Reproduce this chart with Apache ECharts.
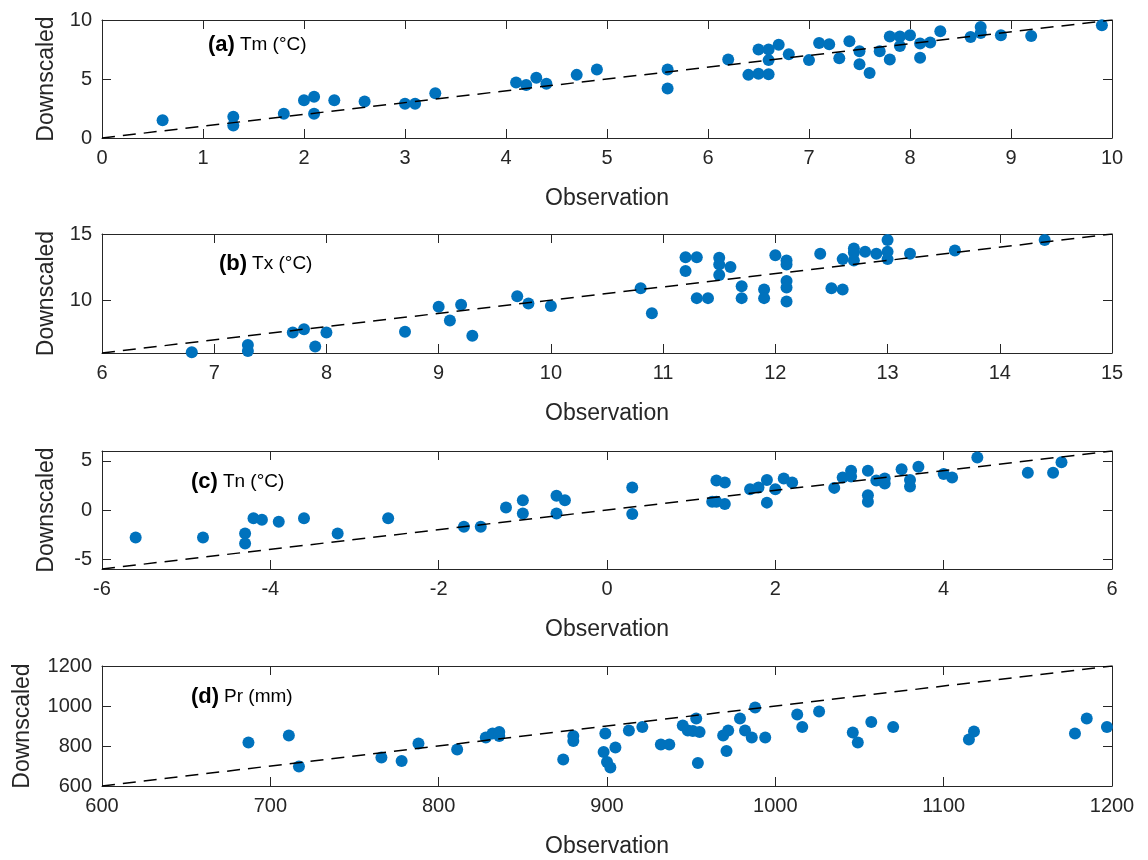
<!DOCTYPE html>
<html lang="en">
<head>
    <meta charset="UTF-8">
    <title>Observation vs Downscaled</title>
    <script src="https://cdn.jsdelivr.net/npm/echarts@6/dist/echarts.min.js"></script>
    <style>
        body { margin: 0; background: #fff; }
    </style>
</head>
<body>
<div id="main" style="width: 1148px;height:860px;"></div>
<script type="text/javascript">
    // (a) Tm
    var tmObs = [0.6,1.3,1.3,1.8,2.0,2.1,2.1,2.3,2.6,3.0,3.1,3.3,4.1,4.2,4.3,4.4,4.7,4.9,5.6,5.6,6.2,6.4,6.5,6.6,6.5,6.6,6.7,6.6,6.8,7.0,7.1,7.2,7.3,7.4,7.5,7.5,7.6,7.7,7.8,7.8,7.9,7.9,8.0,8.1,8.1,8.2,8.3,8.6,8.7,8.7,8.9,9.2,9.9];
    var tmDs  = [1.5,1.8,1.05,2.05,3.2,3.5,2.05,3.2,3.1,2.9,2.9,3.8,4.7,4.5,5.1,4.6,5.35,5.8,5.8,4.2,6.65,5.35,5.45,5.4,7.5,7.5,7.9,6.6,7.1,6.6,8.05,7.95,6.75,8.2,7.35,6.25,5.5,7.35,8.6,6.65,8.6,7.8,8.7,8.0,6.8,8.1,9.05,8.55,9.4,8.9,8.7,8.65,9.55];
    // (b) Tx
    var txObs = [6.8,7.3,7.3,7.7,7.8,7.9,8.0,8.7,9.0,9.1,9.2,9.3,9.7,9.8,10.0,10.8,10.9,11.2,11.2,11.3,11.3,11.4,11.5,11.5,11.5,11.6,11.7,11.7,11.9,11.9,12.0,12.1,12.1,12.1,12.1,12.1,12.4,12.5,12.6,12.6,12.7,12.7,12.7,12.8,12.9,13.0,13.0,13.0,13.2,13.6,14.4];
    var txDs  = [6.05,6.6,6.15,7.55,7.8,6.5,7.55,7.6,9.5,8.45,9.65,7.3,10.3,9.75,9.55,10.9,9.0,13.25,12.2,13.25,10.15,10.15,13.2,12.7,11.9,12.5,11.05,10.15,10.8,10.15,13.4,13.0,12.7,11.45,10.95,9.9,13.5,10.9,10.8,13.1,13.9,13.6,13.0,13.65,13.5,14.55,13.65,13.1,13.5,13.75,14.55];
    // (c) Tn
    var tnObs = [-5.6,-4.8,-4.3,-4.3,-4.2,-4.1,-3.9,-3.6,-3.2,-2.6,-1.7,-1.5,-1.2,-1.0,-1.0,-0.6,-0.6,-0.5,0.3,0.3,1.25,1.3,1.3,1.4,1.4,1.7,1.8,1.9,1.9,2.0,2.1,2.2,2.7,2.8,2.9,2.9,3.1,3.1,3.1,3.2,3.3,3.3,3.5,3.6,3.6,3.7,4.0,4.1,4.4,5.0,5.3,5.4];
    var tnDs  = [-2.8,-2.8,-2.4,-3.4,-0.85,-1.0,-1.2,-0.85,-2.4,-0.85,-1.7,-1.7,0.25,1.0,-0.35,1.45,-0.35,1.0,2.3,-0.4,0.85,3.0,0.85,2.8,0.6,2.1,2.3,3.05,0.75,2.1,3.2,2.8,2.25,3.3,4.0,3.4,4.0,1.5,0.85,3.0,3.2,2.7,4.15,3.05,2.4,4.4,3.65,3.3,5.35,3.8,3.8,4.85];
    // (d) Pr
    var prObs = [687,711,717,766,778,788,811,828,832,836,836,874,880,880,899,898,900,902,905,913,921,932,937,945,948,951,953,954,955,969,971,972,979,982,986,988,994,1013,1016,1026,1046,1049,1057,1070,1115,1118,1178,1185,1197];
    var prDs  = [817,853,698,742,725,812,783,842,862,870,850,733,850,825,862,770,720,692,792,878,895,808,808,903,878,875,937,715,870,853,775,878,937,878,842,992,842,957,895,973,867,817,920,895,833,873,862,937,895];

    // y tick labels
    var tmTicksY = [0, 5, 10];
    var txTicksY = [10, 15];
    var tnTicksY = [-5, 0, 5];
    var prTicksY = [600, 800, 1000, 1200];

    var panels = [
        {tag: '(a)', name: 'Tm (°C)', obs: tmObs, ds: tmDs, min: 0, max: 10, xInt: 1, yTicks: tmTicksY,
            top: 20, height: 118, yGap: 44, labelLeft: 203, labelTop: 29},
        {tag: '(b)', name: 'Tx (°C)', obs: txObs, ds: txDs, min: 6, max: 15, xInt: 1, yTicks: txTicksY,
            top: 234, height: 119, yGap: 44, labelLeft: 214, labelTop: 248},
        {tag: '(c)', name: 'Tn (°C)', obs: tnObs, ds: tnDs, min: -6, max: 6, xInt: 2, yTicks: tnTicksY,
            top: 451, height: 118, yGap: 44, labelLeft: 186, labelTop: 466},
        {tag: '(d)', name: 'Pr (mm)', obs: prObs, ds: prDs, min: 600, max: 1200, xInt: 100, yTicks: prTicksY,
            top: 666, height: 120, yGap: 68, labelLeft: 186, labelTop: 681}
    ];

    var axisColor = '#262626';
    var font = 'Liberation Sans, Arial, sans-serif';
    var plain = function (v) { return String(v); };

    var grid = [], xAxis = [], yAxis = [], series = [], title = [];

    panels.forEach(function (p, i) {
        grid.push({left: 102, right: 36, top: p.top, height: p.height});

        var lineStyle = {color: axisColor, width: 1};
        var tick = {show: true, inside: true, length: 9, lineStyle: lineStyle};

        // bottom x axis
        xAxis.push({
            type: 'value', gridIndex: i, min: p.min, max: p.max, interval: p.xInt,
            name: 'Observation', nameLocation: 'middle', nameGap: 49,
            nameTextStyle: {color: axisColor, fontSize: 23, fontFamily: font},
            axisLine: {show: true, onZero: false, lineStyle: lineStyle},
            axisTick: tick,
            axisLabel: {color: axisColor, fontSize: 20, fontFamily: font, margin: 10, formatter: plain},
            splitLine: {show: false}
        });
        // top x axis (box)
        xAxis.push({
            type: 'value', gridIndex: i, position: 'top', min: p.min, max: p.max, interval: p.xInt,
            axisLine: {show: true, onZero: false, lineStyle: lineStyle},
            axisTick: tick, axisLabel: {show: false}, splitLine: {show: false}
        });
        // left y axis
        yAxis.push({
            type: 'value', gridIndex: i, min: p.min, max: p.max,
            name: 'Downscaled', nameLocation: 'middle', nameGap: p.yGap,
            nameTextStyle: {color: axisColor, fontSize: 23, fontFamily: font},
            axisLine: {show: true, onZero: false, lineStyle: lineStyle},
            axisTick: {show: true, inside: true, length: 9, lineStyle: lineStyle, customValues: p.yTicks},
            axisLabel: {color: axisColor, fontSize: 20, fontFamily: font, margin: 10,
                customValues: p.yTicks, formatter: plain},
            splitLine: {show: false}
        });
        // right y axis (box)
        yAxis.push({
            type: 'value', gridIndex: i, position: 'right', min: p.min, max: p.max,
            axisLine: {show: true, onZero: false, lineStyle: lineStyle},
            axisTick: {show: true, inside: true, length: 9, lineStyle: lineStyle, customValues: p.yTicks},
            axisLabel: {show: false}, splitLine: {show: false}
        });

        var pts = p.obs.map(function (v, k) { return [v, p.ds[k]]; });
        series.push({
            type: 'scatter', xAxisIndex: 2 * i, yAxisIndex: 2 * i,
            data: pts, symbolSize: 12,
            itemStyle: {color: '#0072BD', opacity: 1},
            z: 2
        });
        // 1:1 line
        series.push({
            type: 'line', xAxisIndex: 2 * i, yAxisIndex: 2 * i,
            data: [[p.min, p.min], [p.max, p.max]],
            symbol: 'none', silent: true,
            lineStyle: {color: '#000', width: 1.5, type: [13, 8]},
            z: 3
        });

        title.push({
            text: '{b|' + p.tag + '} {n|' + p.name + '}',
            left: p.labelLeft, top: p.labelTop,
            textStyle: {
                fontWeight: 'normal',
                rich: {
                    b: {fontSize: 22, fontWeight: 'bold', color: '#000', fontFamily: font},
                    n: {fontSize: 19, fontWeight: 'normal', color: '#000', fontFamily: font}
                }
            }
        });
    });

    var myChart = echarts.init(document.getElementById('main'));
    myChart.setOption({
        animation: false,
        backgroundColor: '#fff',
        title: title,
        grid: grid,
        xAxis: xAxis,
        yAxis: yAxis,
        series: series
    });
</script>
</body>
</html>
